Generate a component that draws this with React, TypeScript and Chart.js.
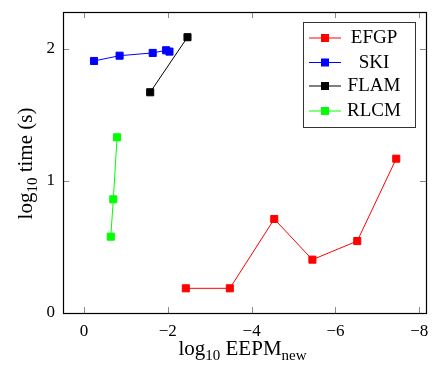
import React, { useEffect, useRef } from 'react';
import { Chart, registerables } from 'chart.js';
Chart.register(...registerables);

const efgpX = [-2.43, -3.48, -4.54, -5.45, -6.52, -7.45];
const efgpY = [0.187, 0.187, 0.712, 0.404, 0.545, 1.169];
const skiX = [-0.24, -0.85, -1.64, -1.96, -2.04];
const skiY = [1.909, 1.949, 1.97, 1.99, 1.98];
const flamX = [-1.58, -2.47];
const flamY = [1.672, 2.089];
const rlcmX = [-0.64, -0.7, -0.79];
const rlcmY = [0.578, 0.861, 1.331];
const xTicks = [0, -2, -4, -6, -8];
const yTicks = [0, 1, 2];
const seriesNames = ['EFGP', 'SKI', 'FLAM', 'RLCM'];
const seriesColors = ['#ff0000', '#0000ff', '#000000', '#00ff00'];
const seriesXs = [efgpX, skiX, flamX, rlcmX];
const seriesYs = [efgpY, skiY, flamY, rlcmY];

const FONT = '"Liberation Serif", "Times New Roman", serif';

type Seg = { t: string; sub?: boolean };

function drawSegs(ctx: CanvasRenderingContext2D, segs: Seg[], size: number, cx: number, baseline: number) {
  const subSize = Math.round(size * 0.7);
  let total = 0;
  const widths = segs.map((s) => {
    ctx.font = `${s.sub ? subSize : size}px ${FONT}`;
    const w = ctx.measureText(s.t).width;
    total += w;
    return w;
  });
  let x = cx - total / 2;
  ctx.textAlign = 'left';
  ctx.textBaseline = 'alphabetic';
  segs.forEach((s, i) => {
    ctx.font = `${s.sub ? subSize : size}px ${FONT}`;
    ctx.fillText(s.t, x, baseline + (s.sub ? size * 0.22 : 0));
    x += widths[i];
  });
}

const framePlugin = {
  id: 'framePlugin',
  afterDraw(chart: any) {
    const ctx: CanvasRenderingContext2D = chart.ctx;
    const { left, right, top, bottom } = chart.chartArea;
    const xs = chart.scales.x;
    const ys = chart.scales.y;
    ctx.save();
    // inner tick marks
    ctx.strokeStyle = '#8a8a8a';
    ctx.lineWidth = 1;
    const tl = 6;
    ctx.beginPath();
    xTicks.forEach((v) => {
      const px = Math.round(xs.getPixelForValue(v)) + 0.5;
      ctx.moveTo(px, bottom);
      ctx.lineTo(px, bottom - tl);
      ctx.moveTo(px, top);
      ctx.lineTo(px, top + tl);
    });
    yTicks.forEach((v) => {
      const py = Math.round(ys.getPixelForValue(v)) + 0.5;
      ctx.moveTo(left, py);
      ctx.lineTo(left + tl, py);
      ctx.moveTo(right, py);
      ctx.lineTo(right - tl, py);
    });
    ctx.stroke();
    // frame
    ctx.strokeStyle = '#000';
    ctx.lineWidth = 1.2;
    ctx.strokeRect(Math.round(left) + 0.5, Math.round(top) + 0.5, Math.round(right - left), Math.round(bottom - top));

    // legend
    const lx0 = right - 123;
    const ly0 = top + 9.5;
    const lw = 112;
    const lh = 105;
    ctx.fillStyle = '#fff';
    ctx.fillRect(lx0, ly0, lw, lh);
    ctx.strokeStyle = '#333';
    ctx.lineWidth = 1;
    ctx.strokeRect(Math.round(lx0) + 0.5, Math.round(ly0) + 0.5, lw, lh);
    const rowY = [16, 40.5, 64, 89];
    seriesNames.forEach((name, i) => {
      const y = ly0 + rowY[i];
      ctx.strokeStyle = seriesColors[i];
      ctx.lineWidth = 1;
      ctx.beginPath();
      ctx.moveTo(lx0 + 6, y + 0.5);
      ctx.lineTo(lx0 + 38, y + 0.5);
      ctx.stroke();
      ctx.fillStyle = seriesColors[i];
      ctx.fillRect(lx0 + 22 - 4, y - 3.5, 8, 8);
      ctx.fillStyle = '#000';
      ctx.font = `19px ${FONT}`;
      ctx.textAlign = 'center';
      ctx.textBaseline = 'middle';
      ctx.fillText(name, lx0 + 71, y + 1);
    });

    // axis titles
    ctx.fillStyle = '#000';
    drawSegs(
      ctx,
      [{ t: 'log' }, { t: '10', sub: true }, { t: ' EEPM' }, { t: 'new', sub: true }],
      21,
      (left + right) / 2 - 2,
      355
    );
    ctx.save();
    ctx.translate(32, (top + bottom) / 2 + 1);
    ctx.rotate(-Math.PI / 2);
    drawSegs(ctx, [{ t: 'log' }, { t: '10', sub: true }, { t: ' time (s)' }], 21, 0, 0);
    ctx.restore();
    ctx.restore();
  },
};

export default function App() {
  const ref = useRef<HTMLCanvasElement | null>(null);
  useEffect(() => {
    if (!ref.current) return;
    const datasets = seriesNames.map((name, i) => ({
      label: name,
      data: seriesXs[i].map((x, j) => ({ x, y: seriesYs[i][j] })),
      borderColor: seriesColors[i],
      backgroundColor: seriesColors[i],
      pointBackgroundColor: seriesColors[i],
      pointBorderColor: seriesColors[i],
      borderWidth: 1,
      pointBorderWidth: 1,
      pointStyle: 'rect' as const,
      pointRadius: 5,
      showLine: true,
      fill: false,
      tension: 0,
    }));
    const chart = new Chart(ref.current, {
      type: 'line',
      data: { datasets },
      options: {
        animation: false,
        responsive: false,
        layout: { padding: { left: 0, right: 14, top: 12, bottom: 0 } },
        plugins: { legend: { display: false }, tooltip: { enabled: false } },
        scales: {
          x: {
            type: 'linear',
            reverse: true,
            min: -8.16,
            max: 0.5,
            grid: { display: false, drawTicks: false },
            border: { display: false },
            afterBuildTicks: (s: any) => {
              s.ticks = xTicks.map((v) => ({ value: v }));
            },
            afterFit: (s: any) => {
              s.height = 57;
              s.paddingLeft = 0;
              s.paddingRight = 0;
            },
            ticks: {
              padding: 8,
              color: '#000',
              font: { family: FONT, size: 17 },
              maxRotation: 0,
              autoSkip: false,
              callback: (v: any) => (Number(v) < 0 ? '\u2212' + Math.abs(Number(v)) : String(v)),
            },
          },
          y: {
            type: 'linear',
            min: 0,
            max: 2.28,
            grid: { display: false, drawTicks: false },
            border: { display: false },
            afterBuildTicks: (s: any) => {
              s.ticks = yTicks.map((v) => ({ value: v }));
            },
            afterFit: (s: any) => {
              s.width = 63;
              s.paddingTop = 0;
              s.paddingBottom = 0;
            },
            ticks: {
              padding: 8,
              color: '#000',
              font: { family: FONT, size: 17 },
              autoSkip: false,
              callback: (v: any) => String(v),
            },
          },
        },
      },
      plugins: [framePlugin],
    });
    return () => chart.destroy();
  }, []);
  return (
    <div style={{ position: 'absolute', left: 0, top: 0, width: 440, height: 370, background: '#fff' }}>
      <canvas ref={ref} width={440} height={370} style={{ display: 'block' }} />
    </div>
  );
}
